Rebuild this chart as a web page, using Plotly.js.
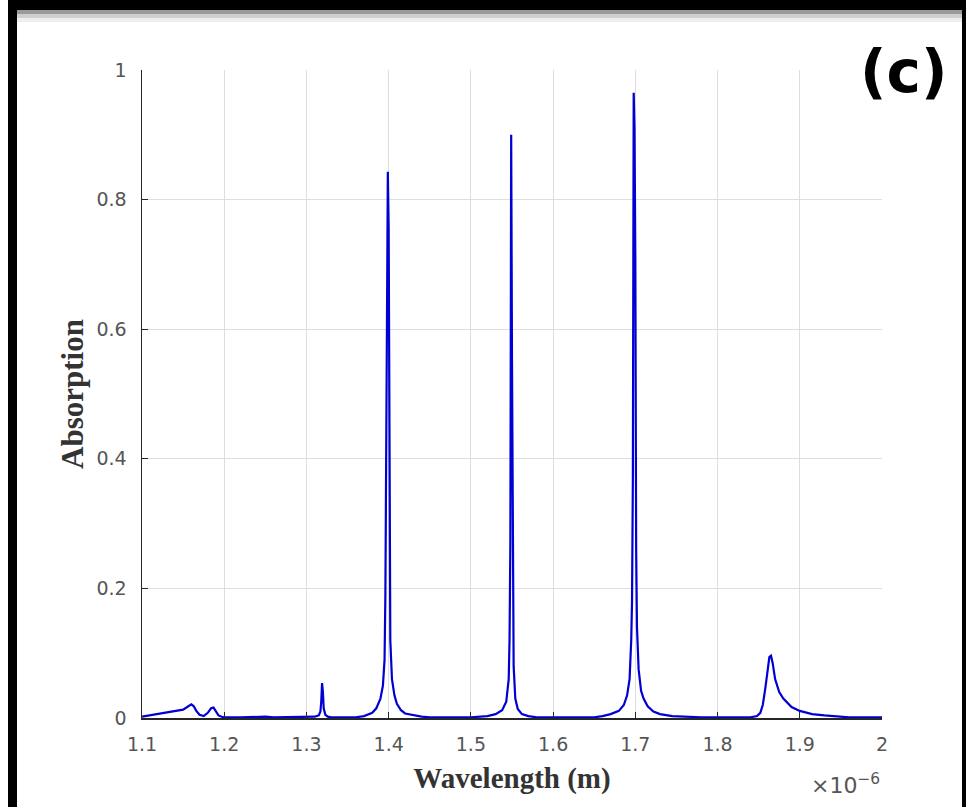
<!DOCTYPE html>
<html>
<head>
<meta charset="utf-8">
<script src="https://cdn.plot.ly/plotly-3.0.1.min.js"></script>
<style>html,body{margin:0;padding:0;background:#fff;}#chart{width:966px;height:807px;}</style>
</head>
<body>
<div id="chart"></div>
<script>
// Wavelength in micrometres (axis is labelled with a x10^-6 multiplier)
const wavelength = [
  1.100,1.105,1.110,1.120,1.130,1.140,1.150,1.155,1.160,1.163,1.166,1.170,1.175,1.180,1.184,1.187,1.190,1.193,1.197,
  1.200,1.220,1.240,1.250,1.260,1.300,1.310,1.315,1.317,1.318,1.319,1.320,1.321,1.323,1.326,1.330,
  1.360,1.370,1.380,1.385,1.390,1.393,1.395,1.396,1.397,1.398,1.399,1.400,1.401,1.402,1.404,1.407,1.410,1.415,1.420,1.430,1.440,1.450,
  1.500,1.520,1.530,1.538,1.543,1.546,1.547,1.548,1.549,1.550,1.551,1.552,1.554,1.557,1.562,1.570,1.580,
  1.650,1.660,1.670,1.680,1.686,1.690,1.693,1.695,1.696,1.697,1.698,1.699,1.700,1.701,1.702,1.704,1.707,1.710,1.715,1.722,1.730,1.745,1.760,1.780,
  1.840,1.848,1.852,1.855,1.858,1.861,1.863,1.865,1.867,1.870,1.875,1.880,1.890,1.900,1.915,1.930,1.950,1.960,2.000
];
const absorption = [
  0.002,0.003,0.004,0.006,0.008,0.010,0.013,0.017,0.021,0.018,0.011,0.005,0.003,0.008,0.015,0.016,0.010,0.004,0.002,
  0.001,0.001,0.002,0.002,0.001,0.001,0.002,0.004,0.010,0.025,0.054,0.040,0.015,0.005,0.002,0.001,
  0.001,0.003,0.008,0.015,0.030,0.050,0.090,0.190,0.430,0.610,0.843,0.755,0.260,0.120,0.060,0.035,0.022,0.012,0.007,0.004,0.002,0.001,
  0.001,0.003,0.006,0.012,0.025,0.060,0.120,0.270,0.900,0.550,0.210,0.080,0.030,0.014,0.006,0.003,0.001,
  0.001,0.003,0.006,0.011,0.020,0.035,0.060,0.120,0.180,0.370,0.965,0.910,0.710,0.260,0.140,0.075,0.042,0.030,0.018,0.010,0.006,0.003,0.002,0.001,
  0.001,0.003,0.008,0.020,0.045,0.075,0.094,0.096,0.085,0.060,0.040,0.030,0.017,0.011,0.006,0.004,0.002,0.001,0.001
];
const xTicks = [1.1,1.2,1.3,1.4,1.5,1.6,1.7,1.8,1.9,2];
const xTickLabels = ['1.1','1.2','1.3','1.4','1.5','1.6','1.7','1.8','1.9','2'];
const yTicks = [0,0.2,0.4,0.6,0.8,1];
const yTickLabels = ['0','0.2','0.4','0.6','0.8','1'];

// pixel helpers for frame decoration (plot area 142..882 x 70..718)
const px = p => (p - 142) / 740;
const py = p => (718 - p) / 648;

const trace = {
  x: wavelength, y: absorption, type: 'scatter', mode: 'lines',
  line: {color: '#0000d2', width: 2.2, shape: 'linear'}, hoverinfo: 'x+y'
};

const tickFont = {family: 'DejaVu Sans, sans-serif', size: 19, color: '#555555'};
const xTitleFont = {family: 'Liberation Serif, Times New Roman, serif', size: 29, color: '#333333', weight: 'bold'};
const yTitleFont = {family: 'Liberation Serif, Times New Roman, serif', size: 31, color: '#333333', weight: 'bold'};

const layout = {
  width: 966, height: 807,
  margin: {l: 142, r: 84, t: 70, b: 89},
  paper_bgcolor: '#ffffff', plot_bgcolor: '#ffffff',
  showlegend: false,
  xaxis: {
    range: [1.1, 2], tickvals: xTicks, ticktext: xTickLabels,
    ticks: 'inside', ticklen: 6, tickcolor: '#262626', tickwidth: 1.2,
    showline: true, linecolor: '#262626', linewidth: 1.5,
    showgrid: true, gridcolor: '#dedede', gridwidth: 1, zeroline: false,
    tickfont: tickFont, automargin: false, ticklabelstandoff: 9,
    title: {text: '<b>Wavelength (m)</b>', font: xTitleFont, standoff: 13}
  },
  yaxis: {
    range: [0, 1], tickvals: yTicks, ticktext: yTickLabels,
    ticks: 'inside', ticklen: 6, tickcolor: '#262626', tickwidth: 1.2,
    showline: true, linecolor: '#262626', linewidth: 1.5,
    showgrid: true, gridcolor: '#dedede', gridwidth: 1, zeroline: false,
    tickfont: tickFont, automargin: false, ticklabelstandoff: 10,
    title: {text: '<b>Absorption</b>', font: yTitleFont, standoff: 3}
  },
  annotations: [
    {xref: 'paper', yref: 'paper', x: px(903), y: py(72), xanchor: 'center', yanchor: 'middle',
     text: '<b>(c)</b>', showarrow: false, font: {family: 'DejaVu Sans, sans-serif', size: 58, color: '#000000'}},
    {xref: 'paper', yref: 'paper', x: px(882), y: py(784), xanchor: 'right', yanchor: 'middle',
     text: '×10<sup>−6</sup>', showarrow: false, font: {family: 'DejaVu Sans, sans-serif', size: 22, color: '#555555'}}
  ],
  shapes: [
    {type: 'rect', xref: 'paper', yref: 'paper', x0: px(8), x1: px(17), y0: py(807), y1: py(0), fillcolor: '#000', line: {width: 0}},
    {type: 'rect', xref: 'paper', yref: 'paper', x0: px(8), x1: px(966), y0: py(10), y1: py(0), fillcolor: '#000', line: {width: 0}},
    {type: 'rect', xref: 'paper', yref: 'paper', x0: px(962), x1: px(966), y0: py(807), y1: py(0), fillcolor: '#000', line: {width: 0}},
    {type: 'rect', xref: 'paper', yref: 'paper', x0: px(17), x1: px(962), y0: py(14), y1: py(10), fillcolor: '#9a9a9a', line: {width: 0}},
    {type: 'rect', xref: 'paper', yref: 'paper', x0: px(17), x1: px(962), y0: py(18), y1: py(14), fillcolor: '#cfcfcf', line: {width: 0}},
    {type: 'rect', xref: 'paper', yref: 'paper', x0: px(17), x1: px(962), y0: py(22), y1: py(18), fillcolor: '#eeeeee', line: {width: 0}}
  ]
};

Plotly.newPlot('chart', [trace], layout, {displayModeBar: false, staticPlot: true});
</script>
</body>
</html>
